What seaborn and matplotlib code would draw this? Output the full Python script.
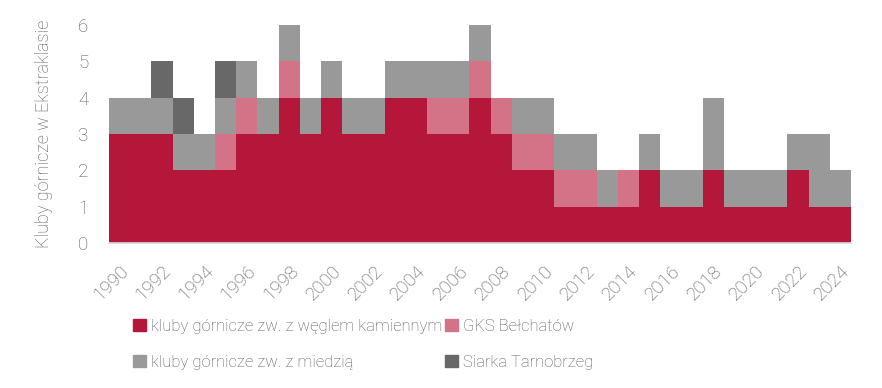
import numpy as np
import pandas as pd
import matplotlib
matplotlib.use("Agg")
import matplotlib.pyplot as plt
import seaborn as sns
from matplotlib.patches import Patch

# === DANE
years = list(range(1990, 2025))
coal = [3, 3, 3, 2, 2, 2, 3, 3, 4, 3, 4, 3, 3, 4, 4, 3, 3, 4, 3, 2,
        2, 1, 1, 1, 1, 2, 1, 1, 2, 1, 1, 1, 2, 1, 1]
belchatow = [0, 0, 0, 0, 0, 1, 1, 0, 1, 0, 0, 0, 0, 0, 0, 1, 1, 1, 1, 1,
             1, 1, 1, 0, 1, 0, 0, 0, 0, 0, 0, 0, 0, 0, 0]
copper = [1, 1, 1, 1, 1, 1, 1, 1, 1, 1, 1, 1, 1, 1, 1, 1, 1, 1, 0, 1,
          1, 1, 1, 1, 0, 1, 1, 1, 2, 1, 1, 1, 1, 2, 1]
siarka = [0, 0, 1, 1, 0, 1, 0, 0, 0, 0, 0, 0, 0, 0, 0, 0, 0, 0, 0, 0,
          0, 0, 0, 0, 0, 0, 0, 0, 0, 0, 0, 0, 0, 0, 0]

labels = ["kluby górnicze zw. z węglem kamiennym", "GKS Bełchatów",
          "kluby górnicze zw. z miedzią", "Siarka Tarnobrzeg"]
colors = ["#B5173A", "#D47388", "#999999", "#686868"]

# === STACK (cumulative, drawn from top layer down)
series = [coal, belchatow, copper, siarka]
cum = np.cumsum(np.array(series), axis=0)
rows = []
for k, lab in enumerate(labels):
    for i, yr in enumerate(years):
        rows.append({"Rok": str(yr), "Kluby": cum[k, i], "Kategoria": lab})
df = pd.DataFrame(rows)

sns.set_style("white")
plt.rcParams["font.family"] = ["Roboto", "DejaVu Sans"]
TXT = "#595959"

fig = plt.figure(figsize=(8.82, 3.88), dpi=100)
ax = fig.add_axes([0.1236, 0.374, 0.8413, 0.562])

sns.barplot(data=df, x="Rok", y="Kluby", hue="Kategoria",
            hue_order=labels[::-1], palette=dict(zip(labels, colors)),
            dodge=False, width=1.0, errorbar=None, linewidth=0,
            saturation=1, legend=False, ax=ax)

ax.set_xlim(-0.5, len(years) - 0.5)
ax.set_ylim(0, 6)
ax.set_yticks(range(7))
ax.set_xticks(range(0, len(years), 2))
ax.set_xticklabels([str(y) for y in years[::2]], rotation=45, ha="right",
                   rotation_mode="anchor")
ax.tick_params(axis="both", length=0, labelsize=13.5, labelcolor=TXT)
ax.tick_params(axis="x", pad=14)
ax.tick_params(axis="y", pad=15)
for t in ax.get_xticklabels() + ax.get_yticklabels():
    t.set_fontweight("light")
ax.set_xlabel("")
ax.set_ylabel("Kluby górnicze w Ekstraklasie", fontsize=13, color=TXT,
              fontweight="light", labelpad=18)
for s in ["top", "right", "left"]:
    ax.spines[s].set_visible(False)
ax.spines["bottom"].set_color("#D9D9D9")
ax.spines["bottom"].set_linewidth(1.2)

handles = [Patch(color=c) for c in colors]
order = [0, 2, 1, 3]
leg = fig.legend([handles[i] for i in order], [labels[i] for i in order],
                 ncol=2, loc="upper left", bbox_to_anchor=(0.151, 0.178),
                 frameon=False, fontsize=12, handlelength=0.75,
                 handleheight=0.75, handletextpad=0.3, columnspacing=0.2,
                 labelspacing=1.25, borderaxespad=0, borderpad=0)
for t in leg.get_texts():
    t.set_color(TXT)
    t.set_fontweight("light")

plt.savefig("out.png", dpi=100)
plt.close()
